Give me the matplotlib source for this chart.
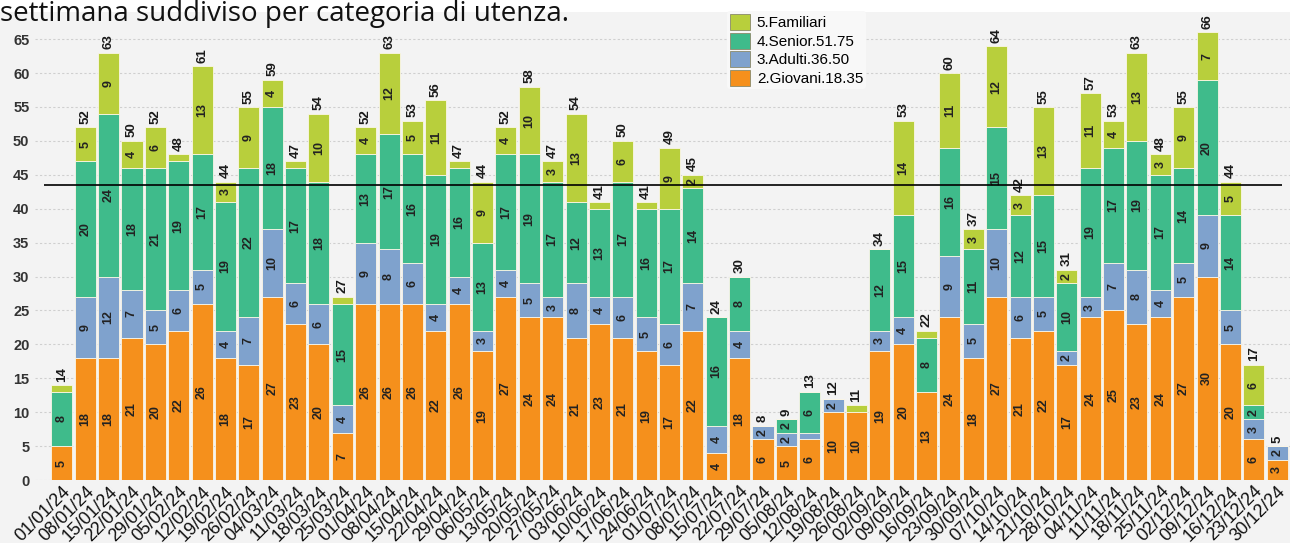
import matplotlib
matplotlib.use("Agg")
import matplotlib.pyplot as plt
from matplotlib.patches import Patch, Rectangle
import numpy as np

settimane = ["01/01/24","08/01/24","15/01/24","22/01/24","29/01/24","05/02/24","12/02/24",
             "19/02/24","26/02/24","04/03/24","11/03/24","18/03/24","25/03/24","01/04/24",
             "08/04/24","15/04/24","22/04/24","29/04/24","06/05/24","13/05/24","20/05/24",
             "27/05/24","03/06/24","10/06/24","17/06/24","24/06/24","01/07/24","08/07/24",
             "15/07/24","22/07/24","29/07/24","05/08/24","12/08/24","19/08/24","26/08/24",
             "02/09/24","09/09/24","16/09/24","23/09/24","30/09/24","07/10/24","14/10/24",
             "21/10/24","28/10/24","04/11/24","11/11/24","18/11/24","25/11/24","02/12/24",
             "09/12/24","16/12/24","23/12/24","30/12/24"]

giovani   = [5,18,18,21,20,22,26,18,17,27,23,20,7,26,26,26,22,26,19,27,24,24,21,23,21,19,17,22,
             4,18,6,5,6,10,10,19,20,13,24,18,27,21,22,17,24,25,23,24,27,30,20,6,3]
adulti    = [0,9,12,7,5,6,5,4,7,10,6,6,4,9,8,6,4,4,3,4,5,3,8,4,6,5,6,7,
             4,4,2,2,1,2,0,3,4,0,9,5,10,6,5,2,3,7,8,4,5,9,5,3,2]
senior    = [8,20,24,18,21,19,17,19,22,18,17,18,15,13,17,16,19,16,13,17,19,17,12,13,17,16,17,14,
             16,8,0,2,6,0,0,12,15,8,16,11,15,12,15,10,19,17,19,17,14,20,14,2,0]
familiari = [1,5,9,4,6,1,13,3,9,4,1,10,1,4,12,5,11,1,9,4,10,3,13,1,6,1,9,2,
             0,0,0,0,0,0,1,0,14,1,11,3,12,3,13,2,11,4,13,3,9,7,5,6,0]

serie_nomi = ["2.Giovani.18.35", "3.Adulti.36.50", "4.Senior.51.75", "5.Familiari"]
serie_colori = ["#f5901c", "#7fa2cd", "#3fbb8b", "#b8cf3c"]
media_riferimento = 43.5
titolo = "settimana suddiviso per categoria di utenza."

serie = [giovani, adulti, senior, familiari]
x = np.arange(len(settimane))
totali = np.sum(np.array(serie), axis=0)

W, H = 1290, 543
fig = plt.figure(figsize=(W/100, H/100), dpi=100)
fig.patch.set_facecolor("white")
bg = "#f3f3f3"
fig.patches.append(Rectangle((0, 0), 1, (H-12)/H, transform=fig.transFigure,
                             facecolor=bg, edgecolor="none", zorder=-10))

ax = fig.add_axes([35/W, (H-480)/H, 1-35/W, (480-12)/H])
ax.set_facecolor(bg)

bottom = np.zeros(len(x))
for vals, nome, col in zip(serie, serie_nomi, serie_colori):
    vals = np.array(vals)
    ax.bar(x, vals, width=0.9, bottom=bottom, color=col, edgecolor="#fbf6e6",
           linewidth=0.6, zorder=3, label=nome)
    for xi, v, b in zip(x, vals, bottom):
        if v >= 2:
            ax.text(xi, b + v/2, str(v), rotation=90, ha="center", va="center",
                    fontsize=9, fontweight="bold", color="#222222",
                    family="Liberation Sans", zorder=5)
    bottom = bottom + vals

for xi, t in zip(x, totali):
    ax.text(xi, t + 0.5, str(t), rotation=90, ha="center", va="bottom",
            fontsize=9.5, fontweight="bold", color="#1a1a1a",
            family="Liberation Sans", zorder=5)

ax.hlines(media_riferimento, -0.75, 52.2, color="black", linewidth=1.2, zorder=6)

ax.set_xlim(-1.15, 52.55)
ax.set_ylim(0, 69)
ax.set_yticks(np.arange(0, 66, 5))
ax.yaxis.grid(True, linestyle=(0, (2, 2)), color="#cfcfcf", linewidth=0.8, zorder=0)
ax.set_axisbelow(True)
for s in ax.spines.values():
    s.set_visible(False)
ax.tick_params(axis="both", length=0)
ax.tick_params(axis="y", pad=4)
for lab in ax.get_yticklabels():
    lab.set_fontweight("bold")
    lab.set_fontsize(10.5)
    lab.set_color("#333333")
    lab.set_family("Liberation Sans")

ax.set_xticks(x)
ax.set_xticklabels(settimane, rotation=45, ha="right", rotation_mode="anchor",
                   fontsize=13, family="Liberation Sans", color="#111111")
ax.tick_params(axis="x", pad=2)

handles = [Patch(facecolor=c, edgecolor="#8a8a6a", linewidth=0.6, label=n)
           for n, c in zip(serie_nomi, serie_colori)][::-1]
leg = fig.legend(handles=handles, loc="upper left", bbox_to_anchor=(727/W, 1 - 11/H),
                 bbox_transform=fig.transFigure,
                 frameon=True, facecolor="#f8f8f8", edgecolor="none", framealpha=1,
                 handlelength=1.3, handleheight=1.25, labelspacing=0.15,
                 handletextpad=0.45, borderpad=0.2, borderaxespad=0,
                 prop={"family": "Liberation Sans", "size": 11})
leg.set_zorder(7)

fig.text(0.0, (H-21)/H, titolo, fontsize=20, family="Open Sans", va="baseline",
         ha="left", color="#111111", zorder=8)

fig.savefig("out.png", dpi=100, facecolor=fig.get_facecolor())
